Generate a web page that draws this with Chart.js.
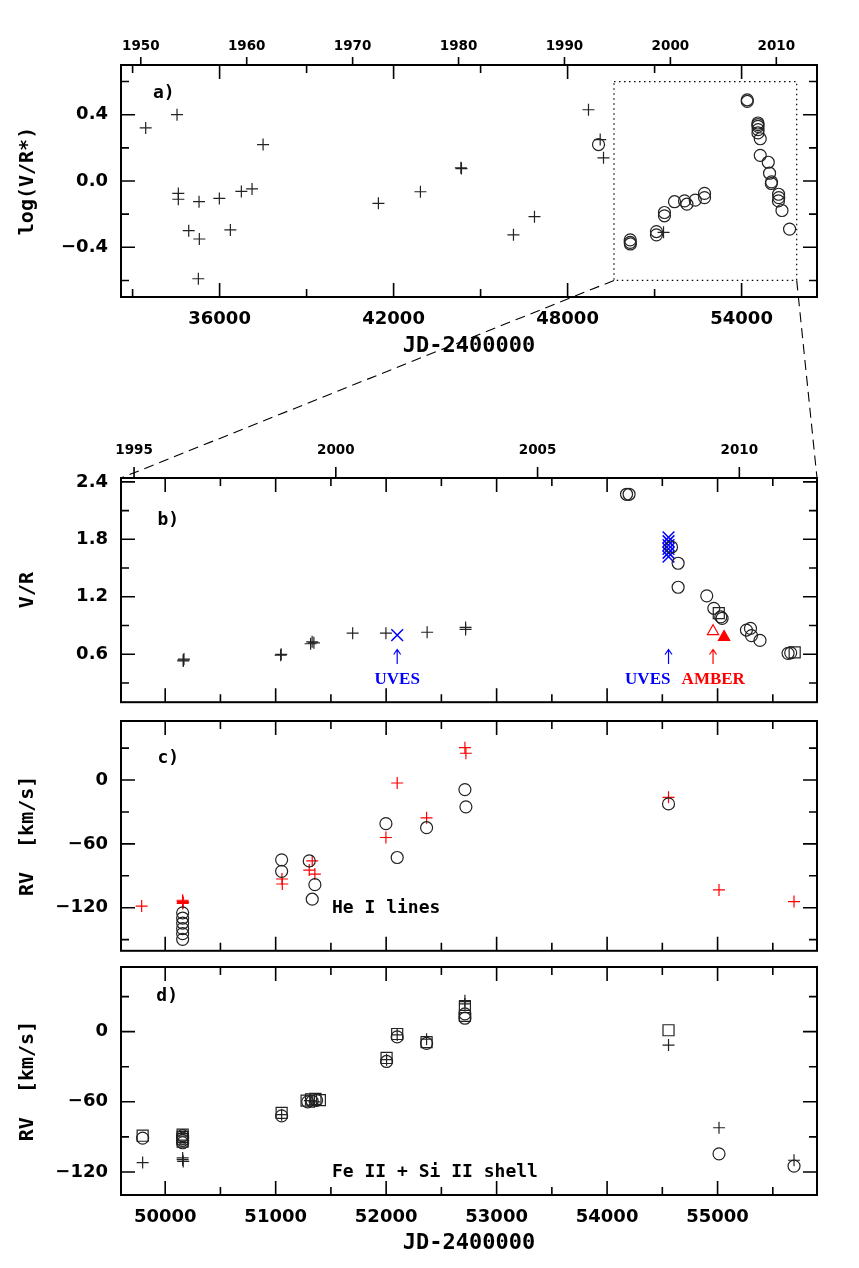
<!DOCTYPE html>
<html>
<head>
    <title>V/R and RV history</title>
    <script src="https://cdn.jsdelivr.net/npm/chart.js"></script>
    <style>
        body { margin: 0; background: white; }
        #wrap { position: relative; width: 859px; height: 1268px; }
        #wrap canvas { position: absolute; left: 0; }
        #links { pointer-events: none; }
    </style>
</head>
<body>
<div id="wrap">
    <canvas id="panelA" width="859" height="400" style="top:0px"></canvas>
    <canvas id="panelB" width="859" height="312" style="top:400px"></canvas>
    <canvas id="panelC" width="859" height="246" style="top:712px"></canvas>
    <canvas id="panelD" width="859" height="310" style="top:958px"></canvas>
    <canvas id="links" width="859" height="1268" style="top:0px"></canvas>
</div>

<script>
// ---- data (JD-2400000, value) ----
// a) log(V/R*)
const aCross = [[33452, 0.32], [34532, 0.40], [34577, -0.075], [34577, -0.11], [34935, -0.30],
    [35291, -0.125], [35301, -0.35], [35267, -0.59], [35991, -0.105], [36371, -0.295],
    [36750, -0.063], [37119, -0.048], [37499, 0.22], [41476, -0.135], [42925, -0.065],
    [44320, 0.08], [44340, 0.075], [46133, -0.325], [46858, -0.215], [48720, 0.43],
    [49124, 0.25], [49238, 0.14], [51308, -0.31]];
const aCircle = [[49066, 0.22], [50159, -0.355], [50159, -0.37], [50165, -0.38],
    [51064, -0.305], [51064, -0.325], [51340, -0.19], [51340, -0.21], [51687, -0.125],
    [52032, -0.12], [52115, -0.14], [52401, -0.115], [52722, -0.075], [52722, -0.10],
    [54195, 0.49], [54195, 0.48], [54564, 0.35], [54564, 0.34], [54564, 0.33], [54570, 0.31],
    [54564, 0.29], [54643, 0.255], [54643, 0.155], [54919, 0.113], [54964, 0.047],
    [55033, -0.005], [55025, -0.015], [55275, -0.08], [55282, -0.10], [55270, -0.12],
    [55392, -0.178], [55654, -0.29]];

// b) V/R
const bCross = [[50164, 0.53], [50164, 0.54], [50170, 0.55], [51045, 0.59], [51050, 0.60],
    [51316, 0.71], [51346, 0.72], [51330, 0.73], [51697, 0.82], [51998, 0.82],
    [52371, 0.83], [52719, 0.88], [52719, 0.86]];
const bUves = [[52100, 0.80], [54556, 1.82], [54556, 1.78], [54556, 1.74], [54556, 1.70],
    [54556, 1.66], [54556, 1.62]];
const bCircle = [[54176, 2.27], [54199, 2.27], [54583, 1.72], [54643, 1.55], [54643, 1.30],
    [54902, 1.21], [54966, 1.08], [55029, 0.99], [55041, 0.975], [55261, 0.853],
    [55298, 0.87], [55307, 0.795], [55384, 0.745], [55638, 0.61], [55662, 0.615]];
const bSquare = [[55011, 1.03], [55698, 0.62]];
const bAmberOpen = [[54959, 0.84]];
const bAmberFill = [[55059, 0.78]];

// c) RV, He I lines
const cCross = [[49787, -118.5], [50158, -113], [50158, -114], [50163, -115], [50158, -116],
    [51057, -93], [51060, -97.7], [51304, -84.6], [51331, -76], [51355, -88.4],
    [51998, -54], [52100, -2.8], [52366, -35.5], [52713, 30.4], [52722, 25.2],
    [54556, -16.2], [55013, -103.3], [55692, -114.2]];
const cCircle = [[50158, -124.8], [50158, -129.7], [50158, -134.4], [50158, -139.7],
    [50158, -144.4], [50158, -149.7], [51054, -75], [51054, -85.8], [51304, -76],
    [51355, -98.3], [51331, -112], [51998, -41], [52100, -72.8], [52366, -44.8],
    [52713, -9], [52722, -25.2], [54556, -22.4]];

// d) RV, Fe II + Si II shell
const dCross = [[49796, -112], [50158, -108], [50158, -109.5], [50163, -111], [51054, -71],
    [51310, -59], [51350, -60], [52004, -24], [52100, -2.8], [52366, -6.5],
    [52713, 26.5], [52713, 23.7], [54556, -11.5], [55013, -82.2], [55692, -110]];
const dCircle = [[49796, -91], [50158, -89], [50158, -91], [50158, -93], [50158, -95],
    [51054, -72], [51290, -60], [51330, -59.5], [51370, -58.8], [52004, -25.5],
    [52100, -4.5], [52366, -10], [52713, 15.2], [52713, 11.5], [55013, -104.5], [55692, -115]];
const dSquare = [[49796, -89], [50158, -88], [50158, -90], [50158, -92], [50158, -94],
    [51054, -69.5], [51280, -59], [51320, -58], [51360, -57.5], [51400, -58.5],
    [52004, -22.5], [52100, -2], [52366, -9], [52713, 21], [52713, 13.5], [54556, 1.2]];

// ---- axes ----
const aRange = [32600, 56600];
const zoomRange = [49600, 55900];
const zoomBoxVal = [-0.6, 0.6];
const aJDTicks = [36000, 42000, 48000, 54000];
const aYearTicks = [1950, 1960, 1970, 1980, 1990, 2000, 2010];
const aValTicks = [-0.4, 0, 0.4];
const bYearTicks = [1995, 2000, 2005, 2010];
const bValTicks = [0.6, 1.2, 1.8, 2.4];
const rvTicks = [-120, -60, 0];
const jdTicks = [50000, 51000, 52000, 53000, 54000, 55000];

// instrument markers in b): [label, arrow JD, label JD, colour]
const bInstr = [['UVES', 52100, 52100, '#0000ff'], ['UVES', 54556, 54368, '#0000ff'],
    ['AMBER', 54959, 54961, '#ff0000']];

const toYear = jd => 2000 + (jd - 51544.5) / 365.25;

const INK = '#222';
const tickFont = { family: 'DejaVu Sans', size: 18, weight: 'bold' };
const yearFont = { family: 'DejaVu Sans', size: 13.5, weight: 'bold' };
const xTitleFont = { family: 'DejaVu Sans Mono', size: 22, weight: 'bold' };
const yTitleFont = { family: 'DejaVu Sans Mono', size: 20, weight: 'bold' };
const noteFont = 'bold 18px "DejaVu Sans Mono"';
const instrFont = 'bold 17px "Liberation Serif"';

function pts(arr) { return arr.map(([x, y]) => ({ x, y })); }

function series(arr, style, color, r, fill, w) {
    return {
        data: pts(arr), showLine: false, xAxisID: 'x', yAxisID: 'y',
        pointStyle: style, pointRadius: r,
        pointBorderColor: color, borderColor: color,
        pointBackgroundColor: fill || 'rgba(0,0,0,0)', backgroundColor: fill || 'rgba(0,0,0,0)',
        pointBorderWidth: w || 1.2
    };
}

const setTicks = list => s => { s.ticks = list.map(v => ({ value: v })); };
const minus = v => String(v).replace('-', '\u2212');
// keep label overhang from pushing the plot area around
const noOverhang = s => { s.paddingTop = 0; s.paddingBottom = 0; s.paddingLeft = 0; s.paddingRight = 0; };

// frame with inward major/minor ticks, and outward year ticks on top
const framePlugin = {
    id: 'frame',
    afterDatasetsDraw(chart, args, o) {
        const { ctx, chartArea: ca, scales } = chart;
        ctx.save();
        ctx.strokeStyle = '#000';
        ctx.lineWidth = 1.6;
        ctx.beginPath();
        const each = (s, step, major, fn) => {
            for (let i = Math.ceil(s.min / step - 1e-9); i * step <= s.max + 1e-9; i++) {
                const v = i * step;
                const big = Math.abs(v / major - Math.round(v / major)) < 1e-6;
                fn(s.getPixelForValue(v), big ? 14 : 8);
            }
        };
        each(scales.x, o.x[0], o.x[1], (p, len) => {
            ctx.moveTo(p, ca.bottom); ctx.lineTo(p, ca.bottom - len);
            ctx.moveTo(p, ca.top); ctx.lineTo(p, ca.top + len);
        });
        each(scales.y, o.y[0], o.y[1], (p, len) => {
            ctx.moveTo(ca.left, p); ctx.lineTo(ca.left + len, p);
            ctx.moveTo(ca.right, p); ctx.lineTo(ca.right - len, p);
        });
        if (scales.xTop) {
            scales.xTop.ticks.forEach(t => {
                const p = scales.xTop.getPixelForValue(t.value);
                ctx.moveTo(p, ca.top); ctx.lineTo(p, ca.top - o.yearLen);
            });
        }
        ctx.stroke();
        ctx.lineWidth = 2;
        ctx.strokeRect(ca.left, ca.top, ca.right - ca.left, ca.bottom - ca.top);
        ctx.restore();
    }
};

// panel letters, inner labels, arrows and the zoom box
const notesPlugin = {
    id: 'notes',
    afterDatasetsDraw(chart, args, o) {
        const { ctx, scales: { x, y } } = chart;
        ctx.save();
        if (o.box) {
            const x0 = x.getPixelForValue(o.box[0]), x1 = x.getPixelForValue(o.box[1]);
            const y0 = y.getPixelForValue(o.box[2]), y1 = y.getPixelForValue(o.box[3]);
            ctx.strokeStyle = '#000';
            ctx.lineWidth = 1.2;
            ctx.setLineDash([1.5, 3.5]);
            ctx.strokeRect(x0, y1, x1 - x0, y0 - y1);
            ctx.setLineDash([]);
        }
        (o.arrows || []).forEach(a => {
            const px = x.getPixelForValue(a.x);
            const y0 = y.getPixelForValue(a.from), y1 = y.getPixelForValue(a.to);
            ctx.strokeStyle = a.color;
            ctx.lineWidth = 1.2;
            ctx.beginPath();
            ctx.moveTo(px, y0); ctx.lineTo(px, y1);
            ctx.moveTo(px - 3.5, y1 + 5); ctx.lineTo(px, y1); ctx.lineTo(px + 3.5, y1 + 5);
            ctx.stroke();
        });
        (o.texts || []).forEach(t => {
            ctx.font = t.font || noteFont;
            ctx.fillStyle = t.color || '#000';
            ctx.textAlign = t.align || 'left';
            ctx.textBaseline = 'middle';
            ctx.fillText(t.text, x.getPixelForValue(t.x), y.getPixelForValue(t.y));
        });
        ctx.restore();
    }
};

function yAxis(min, max, ticks, fmt, title) {
    return {
        axis: 'y', position: 'left', min, max,
        grid: { display: false, drawTicks: false }, border: { display: false },
        afterBuildTicks: setTicks(ticks),
        afterFit: s => { s.width = 121; noOverhang(s); },
        ticks: { font: tickFont, color: '#000', padding: 13, autoSkip: false, callback: fmt },
        title: { display: true, text: title, font: yTitleFont, color: '#000', padding: { top: 16, bottom: 0 } }
    };
}

function jdAxis(range, ticks, height, titlePad) {
    return {
        axis: 'x', position: 'bottom', min: range[0], max: range[1],
        grid: { display: false, drawTicks: false }, border: { display: false },
        afterBuildTicks: setTicks(ticks),
        afterFit: s => { s.height = height; noOverhang(s); },
        ticks: { font: tickFont, color: '#000', padding: 12, autoSkip: false, maxRotation: 0, callback: v => String(v) },
        title: { display: true, text: 'JD-2400000', font: xTitleFont, color: '#000', padding: { top: 0, bottom: titlePad } }
    };
}

function yearAxis(range, ticks, height, pad) {
    return {
        axis: 'x', position: 'top', min: toYear(range[0]), max: toYear(range[1]),
        grid: { display: false, drawTicks: false }, border: { display: false },
        afterBuildTicks: setTicks(ticks),
        afterFit: s => { s.height = height; noOverhang(s); },
        ticks: { font: yearFont, color: '#000', padding: pad, autoSkip: false, maxRotation: 0, callback: v => String(v) }
    };
}

function hiddenX(range) {
    return { axis: 'x', display: false, min: range[0], max: range[1] };
}

function makePanel(id, datasets, scales, padding, frame, notes) {
    return new Chart(document.getElementById(id), {
        type: 'scatter',
        data: { datasets },
        options: {
            responsive: false,
            animation: false,
            events: [],
            layout: { padding },
            plugins: { legend: { display: false }, tooltip: { enabled: false }, frame, notes },
            scales
        },
        plugins: [framePlugin, notesPlugin]
    });
}

const chartA = makePanel('panelA',
    [series(aCross, 'cross', INK, 6), series(aCircle, 'circle', INK, 6)],
    {
        x: jdAxis(aRange, aJDTicks, 103, 41),
        xTop: yearAxis(aRange, aYearTicks, 65, 10),
        y: yAxis(-0.7, 0.7, aValTicks, v => minus(v.toFixed(1)), 'log(V/R*)')
    },
    { left: 0, right: 42, top: 0, bottom: 0 },
    { x: [3000, 6000], y: [0.2, 0.4], yearLen: 8 },
    { box: [zoomRange[0], zoomRange[1], zoomBoxVal[0], zoomBoxVal[1]], texts: [{ x: 33700, y: 0.53, text: 'a)' }] }
);

const chartB = makePanel('panelB',
    [series(bCross, 'cross', INK, 6), series(bCircle, 'circle', INK, 6), series(bSquare, 'rect', INK, 7.8),
     series(bUves, 'crossRot', '#0000ff', 8.3, null, 1.5),
     series(bAmberOpen, 'triangle', '#ff0000', 6.5), series(bAmberFill, 'triangle', '#ff0000', 6.5, '#ff0000')],
    {
        x: hiddenX(zoomRange),
        xTop: yearAxis(zoomRange, bYearTicks, 78, 19),
        y: yAxis(0.1, 2.44, bValTicks, v => v.toFixed(1), 'V/R')
    },
    { left: 0, right: 42, top: 0, bottom: 4 },
    { x: [500, 1000], y: [0.3, 0.6], yearLen: 11 },
    {
        texts: [{ x: 49930, y: 2.0, text: 'b)' }].concat(bInstr.map(d => ({ x: d[2], y: 0.34, text: d[0], color: d[3], font: instrFont, align: 'center' }))),
        arrows: bInstr.map(d => ({ x: d[1], from: 0.50, to: 0.65, color: d[3] }))
    }
);

const chartC = makePanel('panelC',
    [series(cCircle, 'circle', INK, 6), series(cCross, 'cross', '#ff0000', 6)],
    {
        x: hiddenX(zoomRange),
        y: yAxis(-160.5, 55.5, rvTicks, minus, 'RV  [km/s]')
    },
    { left: 0, right: 42, top: 9, bottom: 6 },
    { x: [500, 1000], y: [30, 60] },
    { texts: [{ x: 49930, y: 20, text: 'c)' }, { x: 51510, y: -121, text: 'He I lines' }] }
);

const chartD = makePanel('panelD',
    [series(dSquare, 'rect', INK, 7.8), series(dCircle, 'circle', INK, 6), series(dCross, 'cross', INK, 6)],
    {
        x: jdAxis(zoomRange, jdTicks, 73, 11.5),
        y: yAxis(-139.7, 55.3, rvTicks, minus, 'RV  [km/s]')
    },
    { left: 0, right: 42, top: 6, bottom: 0 },
    { x: [500, 1000], y: [30, 60] },
    { texts: [{ x: 49920, y: 30, text: 'd)' }, { x: 51510, y: -120.3, text: 'Fe II + Si II shell' }] }
);

// dashed lines from the zoom box in a) to the corners of b)
(function drawLinks() {
    const ctx = document.getElementById('links').getContext('2d');
    const sx = chartA.scales.x, sy = chartA.scales.y;
    const offA = chartA.canvas.offsetTop, offB = chartB.canvas.offsetTop;
    const yBox = sy.getPixelForValue(zoomBoxVal[0]) + offA;
    const area = chartB.chartArea;
    ctx.strokeStyle = '#000';
    ctx.lineWidth = 1.1;
    ctx.setLineDash([10, 6]);
    ctx.beginPath();
    ctx.moveTo(sx.getPixelForValue(zoomRange[0]), yBox);
    ctx.lineTo(area.left, area.top + offB);
    ctx.moveTo(sx.getPixelForValue(zoomRange[1]), yBox);
    ctx.lineTo(area.right, area.top + offB);
    ctx.stroke();
})();
</script>
</body>
</html>
